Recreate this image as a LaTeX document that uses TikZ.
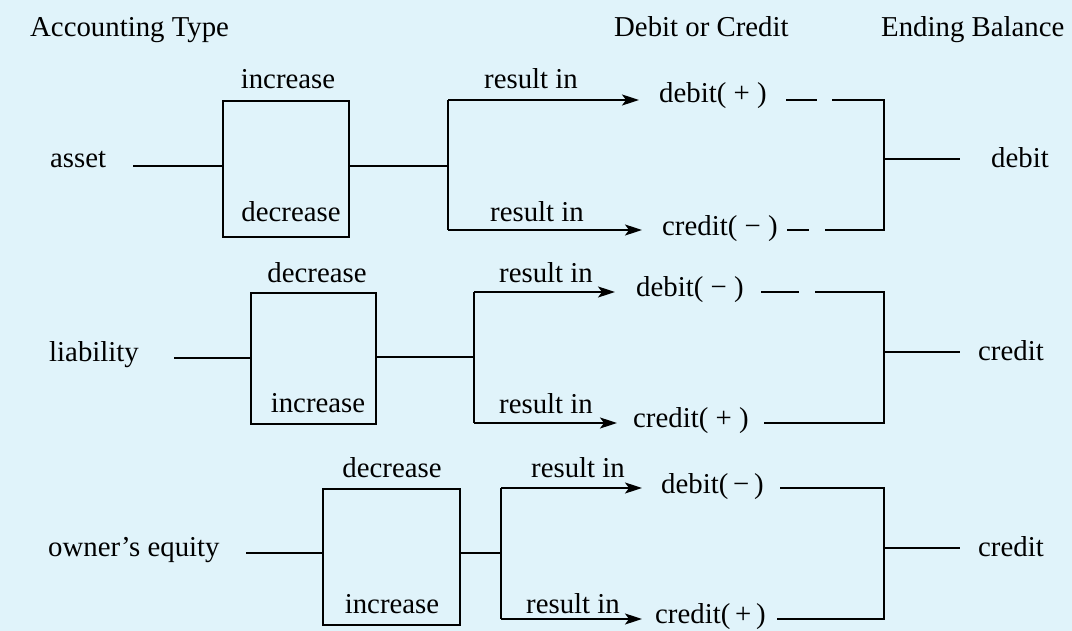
\documentclass[tikz,border=0pt]{standalone}
\usepackage{fontspec}
\setmainfont{Liberation Serif}
\usetikzlibrary{arrows.meta}
\definecolor{bgblue}{RGB}{224,243,250}
\tikzset{
  lbl/.style={inner sep=0pt, anchor=base, font=\fontsize{28.8}{34}\selectfont},
  lblw/.style={lbl, anchor=base west},
  boxn/.style={draw, line width=1.6pt, inner sep=0pt, anchor=north west},
  wire/.style={line width=1.6pt},
  arr/.style={wire, -{Stealth[length=17pt,width=11pt,inset=4pt]}}
}
\begin{document}
\begin{tikzpicture}[x=1pt,y=-1pt]
\fill[bgblue] (0,0) rectangle (1072,631);
\useasboundingbox (0,0) rectangle (1072,631);

% headers
\node[lblw] (h1) at (30,37) {Accounting Type};
\node[lblw] (h2) at (614,37) {Debit or Credit};
\node[lblw] (h3) at (881,37) {Ending Balance};

% ---------------- Row 1: asset
\node[lblw] (asset) at (50,168) {asset};
\node[boxn, minimum width=126pt, minimum height=136pt] (b1) at (222,100) {};
\node[lbl] (b1t) at (288,89) {increase};
\node[lbl] (b1b) at (291,222) {decrease};
\coordinate (a1s) at (133,166);
\coordinate (a1l) at (222,166);
\coordinate (a1r) at (348,166);
\coordinate (j1) at (448,166);
\coordinate (j1t) at (448,100);
\coordinate (j1b) at (448,230);
\coordinate (e1t) at (639,100);
\coordinate (e1b) at (642,230);
\node[lbl] (r1t) at (531,89) {result in};
\node[lbl] (r1b) at (537,222) {result in};
\node[lblw] (d1) at (659,103) {debit( + )};
\node[lblw] (c1) at (662,236) {credit( − )};
\coordinate (d1a) at (786,100); \coordinate (d1b) at (817,100); \coordinate (d1c) at (832,100);
\coordinate (c1a) at (787,230); \coordinate (c1b) at (809,230); \coordinate (c1c) at (825,230);
\coordinate (k1t) at (884,100);
\coordinate (k1b) at (884,230);
\coordinate (k1m) at (884,159);
\coordinate (k1e) at (960,159);
\node[lblw] (f1) at (991,168) {debit};
\draw[wire] (a1s) -- (a1l);
\draw[wire] (a1r) -- (j1);
\draw[wire] (j1t) -- (j1b);
\draw[arr] (j1t) -- (e1t);
\draw[arr] (j1b) -- (e1b);
\draw[wire] (d1a) -- (d1b);
\draw[wire] (c1a) -- (c1b);
\draw[wire] (d1c) -- (k1t) -- (k1b) -- (c1c);
\draw[wire] (k1m) -- (k1e);

% ---------------- Row 2: liability
\node[lblw] (liab) at (49,362) {liability};
\node[boxn, minimum width=125pt, minimum height=131pt] (b2) at (250,292) {};
\node[lbl] (b2t) at (317,283) {decrease};
\node[lbl] (b2b) at (318,412) {increase};
\coordinate (a2s) at (174,358);
\coordinate (a2l) at (250,358);
\coordinate (a2r) at (375,357);
\coordinate (j2) at (474,357);
\coordinate (j2t) at (474,292);
\coordinate (j2b) at (474,423);
\coordinate (e2t) at (615,292);
\coordinate (e2b) at (617,423);
\node[lbl] (r2t) at (546,283) {result in};
\node[lbl] (r2b) at (546,413) {result in};
\node[lblw] (d2) at (636,297) {debit( − )};
\node[lblw] (c2) at (633,427) {credit( + )};
\coordinate (d2a) at (761,292); \coordinate (d2b) at (799,292); \coordinate (d2c) at (815,292);
\coordinate (c2c) at (764,423);
\coordinate (k2t) at (884,292);
\coordinate (k2b) at (884,423);
\coordinate (k2m) at (884,352);
\coordinate (k2e) at (960,352);
\node[lblw] (f2) at (978,360) {credit};
\draw[wire] (a2s) -- (a2l);
\draw[wire] (a2r) -- (j2);
\draw[wire] (j2t) -- (j2b);
\draw[arr] (j2t) -- (e2t);
\draw[arr] (j2b) -- (e2b);
\draw[wire] (d2a) -- (d2b);
\draw[wire] (d2c) -- (k2t) -- (k2b) -- (c2c);
\draw[wire] (k2m) -- (k2e);

% ---------------- Row 3: owner's equity
\node[lblw] (oe) at (48,556) {owner’s equity};
\node[boxn, minimum width=137pt, minimum height=136pt] (b3) at (322,488) {};
\node[lbl] (b3t) at (392,477) {decrease};
\node[lbl] (b3b) at (392,613) {increase};
\coordinate (a3s) at (246,553);
\coordinate (a3l) at (322,553);
\coordinate (a3r) at (459,553);
\coordinate (j3) at (501,553);
\coordinate (j3t) at (501,488);
\coordinate (j3b) at (501,619);
\coordinate (e3t) at (642,488);
\coordinate (e3b) at (642,619);
\node[lbl] (r3t) at (578,477) {result in};
\node[lbl] (r3b) at (573,613) {result in};
\node[lblw] (d3) at (661,493) {debit(\,−\,)};
\node[lblw] (c3) at (655,623) {credit(\,+\,)};
\coordinate (d3c) at (780,488);
\coordinate (c3c) at (777,619);
\coordinate (k3t) at (884,488);
\coordinate (k3b) at (884,619);
\coordinate (k3m) at (884,548);
\coordinate (k3e) at (960,548);
\node[lblw] (f3) at (978,556) {credit};
\draw[wire] (a3s) -- (a3l);
\draw[wire] (a3r) -- (j3);
\draw[wire] (j3t) -- (j3b);
\draw[arr] (j3t) -- (e3t);
\draw[arr] (j3b) -- (e3b);
\draw[wire] (d3c) -- (k3t) -- (k3b) -- (c3c);
\draw[wire] (k3m) -- (k3e);
\end{tikzpicture}
\end{document}
